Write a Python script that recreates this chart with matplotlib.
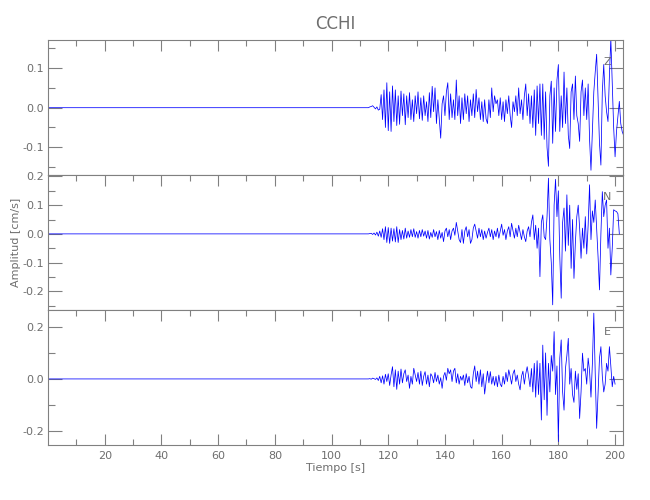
import numpy as np
import matplotlib
matplotlib.use("Agg")
import matplotlib.pyplot as plt
from matplotlib.ticker import MultipleLocator, FixedLocator, FormatStrFormatter

# 1. DATA (cm/s), sampled every 0.5 s from the P onset; quiet before that
station = "CCHI"
components = ["Z", "N", "E"]
onset = 113.0
dt = 0.5

z_vals = [
    0.000, 0.002, 0.003, 0.005, 0.001, -0.003, 0.002, -0.006, -0.004, 0.033,
    -0.030, 0.045, -0.050, 0.063, -0.058, 0.040, -0.060, 0.055, -0.035, 0.045,
    -0.045, 0.030, -0.042, 0.042, -0.020, 0.035, -0.043, 0.030, -0.025, 0.038,
    -0.030, 0.020, -0.035, 0.030, -0.015, 0.040, -0.028, 0.025, -0.032, 0.030,
    -0.020, 0.015, -0.035, 0.038, -0.025, 0.054, -0.010, 0.050, -0.040, 0.020,
    -0.030, -0.077, 0.010, 0.030, -0.020, 0.040, 0.063, -0.030, 0.035, -0.025,
    0.020, -0.030, 0.070, -0.020, 0.030, -0.040, 0.025, -0.030, 0.035, -0.015,
    0.030, -0.035, 0.020, -0.020, 0.035, -0.025, 0.046, -0.010, 0.025, -0.030,
    0.015, -0.035, 0.020, -0.028, -0.040, 0.020, -0.025, 0.050, -0.010, 0.030,
    0.010, 0.020, -0.020, 0.025, -0.030, 0.015, -0.035, 0.020, -0.015, 0.030,
    -0.020, -0.050, 0.015, -0.010, 0.030, -0.020, 0.050, -0.015, 0.020, -0.030,
    0.030, 0.060, -0.020, 0.035, -0.040, 0.030, -0.050, 0.045, -0.070, 0.055,
    -0.040, 0.060, -0.070, 0.060, -0.080, 0.040, -0.100, -0.148, 0.030, 0.067,
    -0.090, 0.050, -0.060, 0.070, 0.109, -0.060, 0.030, -0.050, 0.090, -0.040,
    0.050, -0.070, -0.103, 0.040, 0.060, -0.030, 0.080, -0.020, -0.040, -0.085,
    0.040, 0.070, -0.020, 0.050, -0.030, 0.060, -0.080, -0.158, -0.060, 0.040,
    0.090, 0.135, 0.020, -0.090, -0.145, 0.040, 0.109, 0.030, -0.010, -0.035,
    0.080, 0.175, 0.060, -0.050, -0.124, -0.060, -0.022, 0.016, -0.040, -0.060,
    -0.070,
]

n_vals = [
    0.000, 0.001, 0.002, -0.002, 0.003, -0.004, 0.006, -0.008, 0.010, -0.012,
    0.018, -0.020, 0.025, -0.030, 0.022, -0.033, 0.020, -0.025, 0.018, -0.028,
    0.025, -0.030, 0.015, -0.020, 0.012, -0.018, 0.020, -0.015, 0.010, -0.012,
    0.015, -0.010, 0.018, -0.012, 0.008, -0.015, 0.012, -0.010, 0.015, -0.008,
    0.010, -0.015, 0.012, -0.018, 0.005, -0.012, 0.015, -0.010, 0.008, -0.020,
    0.012, -0.015, 0.005, -0.027, 0.010, 0.020, -0.010, 0.015, -0.020, 0.010,
    0.020, -0.005, 0.040, 0.010, -0.020, -0.030, 0.015, -0.033, 0.010, 0.025,
    -0.010, 0.015, -0.033, -0.020, 0.020, 0.034, 0.010, -0.015, 0.020, -0.010,
    0.015, -0.020, 0.010, -0.015, 0.005, 0.020, -0.010, 0.015, -0.020, 0.010,
    -0.010, 0.020, -0.015, 0.010, 0.034, -0.005, 0.015, -0.020, 0.010, 0.025,
    -0.010, 0.037, 0.010, -0.015, 0.020, -0.010, 0.030, 0.005, -0.020, 0.015,
    -0.010, -0.027, 0.010, 0.025, -0.010, 0.040, 0.066, -0.020, 0.030, -0.050,
    0.020, -0.149, 0.040, 0.066, -0.010, -0.020, 0.060, 0.194, -0.020, -0.100,
    -0.247, 0.100, 0.190, 0.060, 0.150, -0.080, -0.224, 0.040, 0.090, -0.060,
    0.136, -0.040, 0.100, -0.120, 0.050, -0.155, -0.030, 0.060, 0.100, 0.020,
    -0.085, 0.020, -0.050, 0.060, -0.070, 0.030, 0.171, -0.020, 0.080, 0.040,
    0.118, 0.020, -0.080, -0.195, 0.000, 0.147, 0.060, 0.100, 0.118, -0.050,
    0.020, -0.143, -0.050, 0.084, 0.080, 0.078, 0.070, 0.000,
]

e_vals = [
    0.000, 0.001, -0.001, 0.003, 0.001, -0.002, 0.004, -0.006, 0.010, -0.015,
    0.012, -0.020, 0.018, -0.010, 0.020, -0.025, 0.015, 0.047, -0.030, 0.035,
    -0.040, 0.030, -0.020, 0.038, -0.015, 0.020, 0.035, -0.010, 0.015, -0.036,
    0.010, -0.020, 0.041, 0.015, -0.010, 0.025, -0.020, 0.030, -0.025, 0.010,
    0.028, -0.020, 0.015, -0.030, 0.020, 0.010, -0.015, 0.025, -0.010, 0.015,
    -0.020, 0.005, -0.036, 0.010, 0.025, -0.005, 0.041, 0.020, 0.035, -0.010,
    0.030, 0.041, -0.015, 0.020, -0.020, 0.010, -0.005, 0.015, -0.025, 0.020,
    -0.015, 0.010, -0.030, -0.036, 0.020, 0.050, -0.010, 0.030, -0.020, 0.035,
    -0.030, 0.020, -0.058, -0.010, 0.030, -0.015, 0.028, -0.020, 0.010, -0.025,
    0.010, -0.030, 0.015, -0.020, -0.030, 0.010, -0.020, 0.025, -0.010, 0.035,
    0.010, -0.020, 0.020, 0.035, -0.010, 0.015, -0.020, -0.042, 0.010, 0.030,
    -0.020, 0.020, 0.047, 0.010, -0.030, 0.040, -0.050, 0.060, -0.070, 0.070,
    -0.060, 0.060, -0.158, 0.130, -0.080, 0.100, -0.140, 0.060, -0.050, 0.090,
    0.030, 0.182, -0.060, 0.050, -0.241, 0.080, 0.150, -0.050, -0.120, 0.040,
    0.090, 0.156, -0.020, 0.040, -0.060, -0.090, 0.030, -0.040, 0.020, -0.152,
    -0.050, 0.099, 0.030, 0.040, -0.020, 0.080, 0.030, -0.070, 0.060, 0.253,
    0.020, -0.190, -0.060, 0.080, 0.124, 0.010, -0.050, -0.020, 0.060, 0.030,
    0.124, 0.050, -0.030, 0.010, -0.020,
]

traces = [z_vals, n_vals, e_vals]
ylims = [(-0.170, 0.171), (-0.265, 0.205), (-0.254, 0.265)]
yticks = [(0.1, 0.05), (0.1, 0.05), (0.2, 0.1)]
xmajor = [20, 40, 60, 80, 100, 120, 140, 160, 180, 200]
xminor = [10, 30, 50, 70, 90, 110, 130, 150, 170, 190]

# 2. STYLE
gray = "#808080"
txt = "#6e6e6e"
plt.rcParams["font.family"] = ["DejaVu Sans"]
plt.rcParams["font.size"] = 8

fig = plt.figure(figsize=(6.5, 5), dpi=100)

left, width = 48 / 650, 575.3 / 650
bottoms = [1 - 175 / 500, 1 - 310 / 500, 1 - 445 / 500]
height = 135 / 500

for i, (vals, comp) in enumerate(zip(traces, components)):
    ax = fig.add_axes([left, bottoms[i], width, height])
    t = np.concatenate([[0.0], onset + dt * np.arange(len(vals))])
    y = np.concatenate([[0.0], vals])
    ax.plot(t, y, color="#0000ff", lw=0.55)

    ax.set_xlim(0, 202.9)
    ax.set_ylim(*ylims[i])
    ax.xaxis.set_major_locator(FixedLocator(xmajor))
    ax.xaxis.set_minor_locator(FixedLocator(xminor))
    ax.yaxis.set_major_locator(MultipleLocator(yticks[i][0]))
    ax.yaxis.set_minor_locator(MultipleLocator(yticks[i][1]))
    ax.yaxis.set_major_formatter(FormatStrFormatter("%.1f"))

    for s in ax.spines.values():
        s.set_color(gray)
        s.set_linewidth(0.8)

    last = i == len(traces) - 1
    ax.tick_params(which="both", direction="in", colors=gray, labelcolor=txt,
                   top=True, right=True, bottom=last, labelbottom=last,
                   width=0.8, labelsize=8)
    ax.tick_params(which="major", axis="x", length=8, pad=4)
    ax.tick_params(which="minor", axis="x", length=4)
    ax.tick_params(which="major", axis="y", length=10, pad=3)
    ax.tick_params(which="minor", axis="y", length=5)

    ax.text(0.972, 0.84, comp, transform=ax.transAxes, color=txt,
            ha="center", va="center", fontsize=8)

    if i == 0:
        ax.set_title(station, color=txt, fontsize=12, pad=8)
    if i == 1:
        ax.set_ylabel("Amplitud [cm/s]", color=txt, fontsize=8)
        ax.yaxis.set_label_coords(-0.047, 0.5)
    if last:
        ax.set_xlabel("Tiempo [s]", color=txt, fontsize=8, labelpad=2)

fig.savefig("out.png", dpi=100)
